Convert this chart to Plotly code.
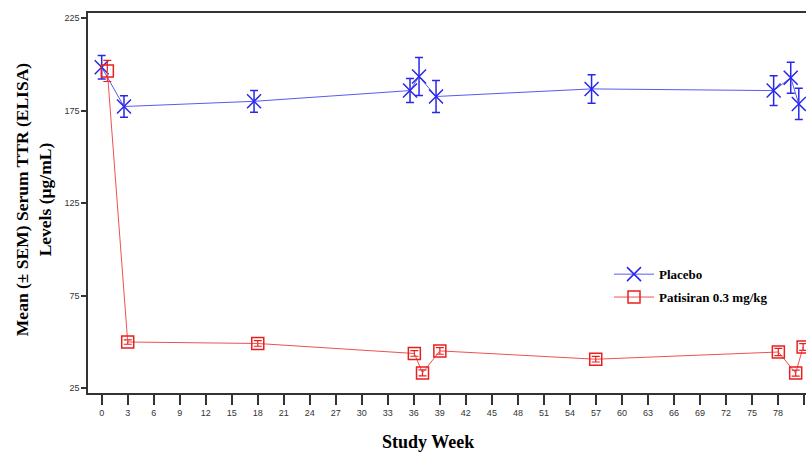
import plotly.graph_objects as go

# Data (weeks, mean TTR, SEM)
placebo_week = [0.0, 2.57, 17.57, 35.56, 36.6, 38.56, 56.5, 77.5, 79.47, 80.4]
placebo_mean = [198.4, 177.2, 180.0, 185.8, 193.4, 182.6, 186.7, 185.8, 192.7, 178.6]
placebo_sem = [6.3, 5.8, 5.9, 6.5, 10.3, 8.6, 7.7, 8.0, 8.4, 8.4]

patisiran_week = [0.65, 3.0, 18.0, 36.06, 37.0, 39.0, 56.98, 78.04, 80.04, 80.9]
patisiran_mean = [196.4, 50.0, 49.2, 43.8, 33.3, 45.2, 40.7, 44.6, 33.2, 47.3]
patisiran_sem = [5.7, 1.2, 1.5, 1.5, 1.6, 1.8, 1.5, 2.0, 1.6, 1.8]

x_ticks = list(range(0, 82, 3))
y_ticks = [25, 75, 125, 175, 225]

blue = "rgb(40,40,235)"
blue_line = "rgb(90,90,240)"
red = "rgb(235,30,30)"
red_line = "rgb(240,80,80)"

fig = go.Figure()
fig.add_trace(go.Scatter(
    x=placebo_week, y=placebo_mean, mode="lines+markers", name="Placebo",
    legendgroup="a",
    line=dict(color=blue_line, width=1),
    marker=dict(symbol="x-thin-open", size=14, color=blue, line=dict(color=blue, width=1.5)),
    error_y=dict(type="data", array=placebo_sem, color=blue, thickness=1.5, width=4),
))
fig.add_trace(go.Scatter(
    x=patisiran_week, y=patisiran_mean, mode="lines+markers", name="Patisiran 0.3 mg/kg",
    legendgroup="b",
    line=dict(color=red_line, width=1),
    marker=dict(symbol="square-open", size=12, color=red, line=dict(color=red, width=1.5)),
    error_y=dict(type="data", array=patisiran_sem, color=red, thickness=1.2, width=4),
))

# Body margin is removed by the post script, so figure coords = screen coords
W, H = 806, 453
L, T = 88, 13
bottom = 392.7
B = H - bottom
pw = W - L
ph = bottom - T

fig.update_layout(
    width=W, height=H,
    margin=dict(l=L, r=0, t=T, b=B, pad=0),
    plot_bgcolor="white", paper_bgcolor="white",
    showlegend=True,
    legend=dict(
        x=(609 - L) / pw, y=(bottom - 259) / ph, xanchor="left", yanchor="top",
        font=dict(family="Liberation Serif", size=13, color="black", weight="bold"),
        bgcolor="rgba(0,0,0,0)", tracegroupgap=3, itemwidth=40,
    ),
    xaxis=dict(
        range=[-1.58, 81.23], tickmode="array", tickvals=x_ticks,
        ticktext=[str(t) for t in x_ticks],
        ticks="outside", ticklen=10, tickwidth=1.5, tickcolor="#333",
        showline=True, linecolor="#333", linewidth=1.5, mirror=True,
        showgrid=False, zeroline=False,
        tickfont=dict(family="Liberation Sans", size=9, color="#333"),
    ),
    yaxis=dict(
        range=[22.46, 227.7], tickmode="array", tickvals=y_ticks,
        ticks="outside", ticklen=5, tickwidth=1.5, tickcolor="#333",
        showline=True, linecolor="#333", linewidth=1.5, mirror=False,
        showgrid=False, zeroline=False,
        tickfont=dict(family="Liberation Sans", size=9, color="#333"),
    ),
    annotations=[
        dict(
            text="<b>Mean (± SEM) Serum TTR (ELISA)</b><br><b>Levels (µg/mL)</b>",
            xref="paper", yref="paper", x=(33 - L) / pw, y=(bottom - 200) / ph,
            xanchor="center", yanchor="middle", textangle=-90, showarrow=False,
            font=dict(family="Liberation Serif", size=17.5, color="black"),
        ),
        dict(
            text="<b>Study Week</b>", xref="paper", yref="paper",
            x=(428 - L) / pw, y=(bottom - 442) / ph, xanchor="center", yanchor="middle",
            showarrow=False, font=dict(family="Liberation Serif", size=18, color="black"),
        ),
    ],
)

fig.write_html(
    "out.html",
    config={"displayModeBar": False},
    post_script="document.body.style.margin='0';document.documentElement.style.overflow='hidden';document.body.style.overflow='hidden';",
)
